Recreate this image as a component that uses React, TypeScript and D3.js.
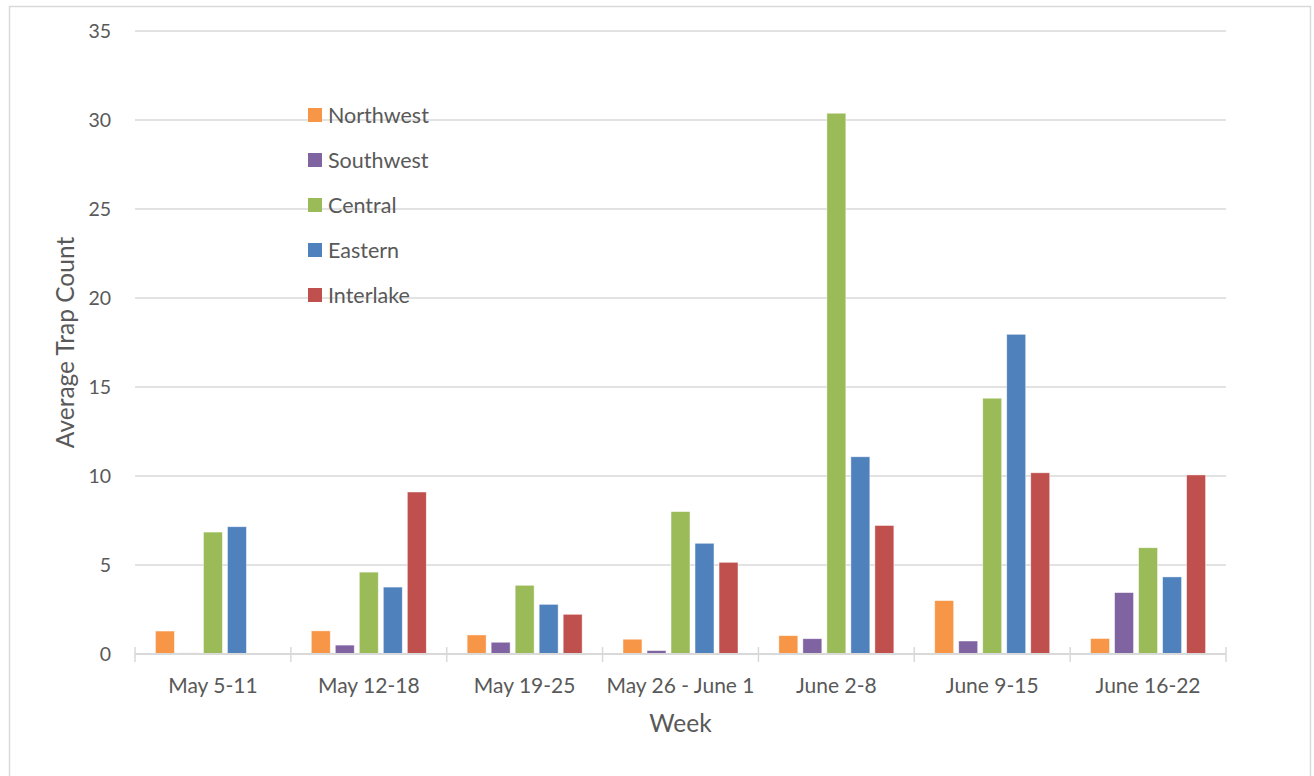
import { useEffect, useRef } from 'react';
import * as d3 from 'd3';

const weeks = ['May 5-11', 'May 12-18', 'May 19-25', 'May 26 - June 1', 'June 2-8', 'June 9-15', 'June 16-22'];
const regions = ['Northwest', 'Southwest', 'Central', 'Eastern', 'Interlake'];
const regionColors = ['#f79646', '#8064a2', '#9bbb59', '#4f81bd', '#c0504d'];

const northwest = [1.29, 1.3, 1.07, 0.83, 1.03, 3.0, 0.87];
const southwest = [0.06, 0.5, 0.66, 0.19, 0.86, 0.73, 3.45];
const central = [6.85, 4.6, 3.86, 8.0, 30.38, 14.37, 5.97];
const eastern = [7.15, 3.76, 2.79, 6.22, 11.08, 17.96, 4.33];
const interlake = [0, 9.1, 2.23, 5.15, 7.22, 10.18, 10.06];

const yTicks = [0, 5, 10, 15, 20, 25, 30, 35];

export default function App() {
  const svgRef = useRef<SVGSVGElement>(null);

  useEffect(() => {
    if (!svgRef.current) return;
    const svg = d3.select(svgRef.current);
    svg.selectAll('*').remove();

    const H = 776;
    const left = 135, right = 1226, top = 31, bottom = 654;
    const font = 'Lato, "Open Sans", sans-serif';
    const textColor = '#595959';

    const series = [northwest, southwest, central, eastern, interlake];

    // Outer border
    svg.append('rect')
      .attr('x', 9.5).attr('y', 6.5)
      .attr('width', 1301).attr('height', H + 10)
      .attr('fill', '#fff')
      .attr('stroke', '#d9d9d9')
      .attr('stroke-width', 1.5);

    const x0 = d3.scaleBand<string>().domain(weeks).range([left, right]).padding(0);
    const bw0 = x0.bandwidth();
    const x1 = d3.scaleBand<string>()
      .domain(regions)
      .range([(bw0 - 115) / 2, (bw0 + 115) / 2])
      .paddingInner(0.21)
      .paddingOuter(0);
    const y = d3.scaleLinear().domain([0, 35]).range([bottom, top]);

    // Gridlines
    svg.append('g')
      .selectAll('line')
      .data(yTicks.filter(t => t > 0))
      .enter()
      .append('line')
      .attr('x1', left).attr('x2', right)
      .attr('y1', d => y(d)).attr('y2', d => y(d))
      .attr('stroke', '#d9d9d9')
      .attr('stroke-width', 1.5);

    // Y tick labels
    svg.append('g')
      .selectAll('text')
      .data(yTicks)
      .enter()
      .append('text')
      .attr('x', 111)
      .attr('y', d => y(d))
      .attr('dy', '0.35em')
      .attr('text-anchor', 'end')
      .attr('fill', textColor)
      .style('font-family', font)
      .style('font-size', '19.5px')
      .text(d => d);

    // Bars
    const groups = svg.append('g')
      .selectAll('g')
      .data(weeks)
      .enter()
      .append('g')
      .attr('transform', d => `translate(${x0(d)},0)`);

    groups.selectAll('rect')
      .data((_, i) => regions.map((r, j) => ({ region: r, value: series[j][i], color: regionColors[j] })))
      .enter()
      .append('rect')
      .attr('x', d => x1(d.region) || 0)
      .attr('y', d => y(d.value))
      .attr('width', x1.bandwidth())
      .attr('height', d => y(0) - y(d.value))
      .attr('fill', d => d.color)
      .attr('stroke', '#fff')
      .attr('stroke-opacity', 0.6)
      .attr('stroke-width', 0.75);

    // X axis line and cross ticks
    svg.append('line')
      .attr('x1', left).attr('x2', right)
      .attr('y1', bottom).attr('y2', bottom)
      .attr('stroke', '#d9d9d9')
      .attr('stroke-width', 2);

    const tickPos = weeks.map(w => x0(w) || 0).concat([right]);
    svg.append('g')
      .selectAll('line')
      .data(tickPos)
      .enter()
      .append('line')
      .attr('x1', d => d).attr('x2', d => d)
      .attr('y1', bottom - 7).attr('y2', bottom + 8)
      .attr('stroke', '#d9d9d9')
      .attr('stroke-width', 1.5);

    // X labels
    svg.append('g')
      .selectAll('text')
      .data(weeks)
      .enter()
      .append('text')
      .attr('x', d => (x0(d) || 0) + bw0 / 2)
      .attr('y', 686)
      .attr('dy', '0.35em')
      .attr('text-anchor', 'middle')
      .attr('fill', textColor)
      .style('font-family', font)
      .style('font-size', '21px')
      .text(d => d);

    // Axis titles
    svg.append('text')
      .attr('x', (left + right) / 2 - 0)
      .attr('y', 723)
      .attr('dy', '0.35em')
      .attr('text-anchor', 'middle')
      .attr('fill', textColor)
      .style('font-family', font)
      .style('font-size', '24.5px')
      .text('Week');

    svg.append('text')
      .attr('transform', `translate(65,${(top + bottom) / 2}) rotate(-90)`)
      .attr('dy', '0.35em')
      .attr('text-anchor', 'middle')
      .attr('fill', textColor)
      .style('font-family', font)
      .style('font-size', '24.5px')
      .text('Average Trap Count');

    // Legend
    const legend = svg.append('g').attr('transform', 'translate(308,115)');
    regions.forEach((r, i) => {
      legend.append('rect')
        .attr('x', 0).attr('y', i * 45 - 7)
        .attr('width', 14).attr('height', 14)
        .attr('fill', regionColors[i]);
      legend.append('text')
        .attr('x', 20).attr('y', i * 45)
        .attr('dy', '0.35em')
        .attr('fill', textColor)
        .style('font-family', font)
        .style('font-size', '21.5px')
        .text(r);
    });
  }, []);

  return (
    <div style={{ position: 'absolute', left: 0, top: 0 }}>
      <svg ref={svgRef} width={1314} height={776} style={{ display: 'block' }} />
    </div>
  );
}
